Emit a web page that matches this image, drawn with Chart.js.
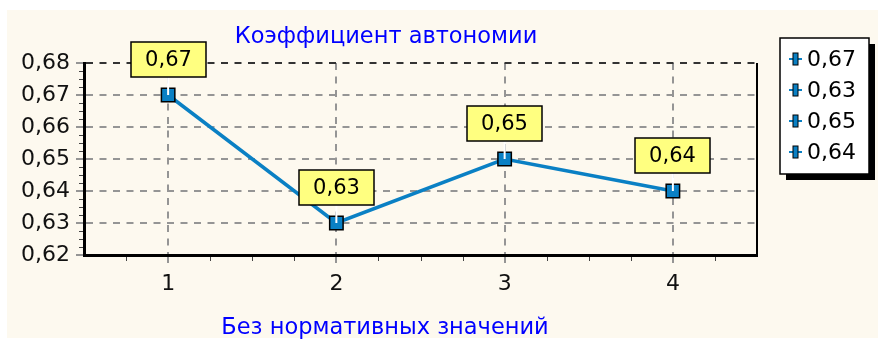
<!DOCTYPE html>
<html lang="ru">
<head>
    <meta charset="UTF-8">
    <title>Коэффициент автономии</title>
    <script src="https://cdn.jsdelivr.net/npm/chart.js"></script>
    <style>
        html, body {
            margin: 0;
            padding: 0;
            background: #ffffff;
        }
        .wrap {
            width: 878px;
            height: 340px;
        }
    </style>
</head>
<body>
<div class="wrap">
    <canvas id="chart1" width="878" height="340"></canvas>
</div>
<script>
    // data
    const categories = [1, 2, 3, 4];
    const values = [0.67, 0.63, 0.65, 0.64];
    const valueLabels = ['0,67', '0,63', '0,65', '0,64'];
    const yTickValues = [0.62, 0.63, 0.64, 0.65, 0.66, 0.67, 0.68];
    const yTickLabels = ['0,62', '0,63', '0,64', '0,65', '0,66', '0,67', '0,68'];
    const chartTitle = 'Коэффициент автономии';
    const xAxisTitle = 'Без нормативных значений';

    const lineColor = '#0a80c4';
    const gridColor = '#959595';

    Chart.defaults.font.family = 'DejaVu Sans';

    // extra TeeChart-like decorations: panel, marks, legend, titles
    const teePlugin = {
        id: 'teePlugin',
        beforeDraw(chart) {
            const ctx = chart.ctx;
            ctx.save();
            ctx.fillStyle = '#ffffff';
            ctx.fillRect(0, 0, chart.width, chart.height);
            ctx.fillStyle = '#fdf9ef';
            ctx.fillRect(7, 10, chart.width - 7, chart.height - 12);
            ctx.restore();
        },
        afterDatasetsDraw(chart) {
            const ctx = chart.ctx;
            const area = chart.chartArea;
            const xs = chart.scales.x;
            const ys = chart.scales.y;
            ctx.save();

            // right wall
            ctx.strokeStyle = '#000';
            ctx.lineWidth = 2;
            ctx.beginPath();
            ctx.moveTo(area.right, area.top);
            ctx.lineTo(area.right, area.bottom + 1);
            ctx.stroke();

            // minor ticks
            ctx.strokeStyle = '#444';
            ctx.lineWidth = 1;
            ctx.beginPath();
            for (let i = 0; i < yTickValues.length - 1; i++) {
                const step = (yTickValues[i + 1] - yTickValues[i]) / 4;
                for (let k = 1; k < 4; k++) {
                    const y = Math.round(ys.getPixelForValue(yTickValues[i] + step * k)) + 0.5;
                    ctx.moveTo(area.left - 5, y);
                    ctx.lineTo(area.left - 1, y);
                }
            }
            for (let v = xs.min + 0.25; v < xs.max; v += 0.25) {
                if (categories.includes(v)) continue;
                const x = Math.round(xs.getPixelForValue(v)) + 0.5;
                ctx.moveTo(x, area.bottom + 2);
                ctx.lineTo(x, area.bottom + 6);
            }
            ctx.stroke();

            // marks (value boxes)
            const meta = chart.getDatasetMeta(0);
            meta.data.forEach((pt, i) => {
                const px = pt.x;
                const py = pt.y;
                const bw = 75, bh = 35, gap = 18;
                ctx.strokeStyle = '#ffffff';
                ctx.lineWidth = 2;
                ctx.beginPath();
                ctx.moveTo(px, py);
                ctx.lineTo(px, py - gap);
                ctx.stroke();

                const bx = Math.round(px - bw / 2);
                const by = Math.round(py - gap - bh);
                ctx.fillStyle = '#ffff80';
                ctx.fillRect(bx, by, bw, bh);
                ctx.strokeStyle = '#000';
                ctx.lineWidth = 1.5;
                ctx.strokeRect(bx, by, bw, bh);
                ctx.fillStyle = '#000';
                ctx.font = '21px "DejaVu Sans"';
                ctx.textAlign = 'center';
                ctx.textBaseline = 'middle';
                ctx.fillText(valueLabels[i], bx + bw / 2, by + bh / 2 + 1);
            });

            // titles
            ctx.fillStyle = '#0000ff';
            ctx.font = '22.5px "DejaVu Sans"';
            ctx.textAlign = 'center';
            ctx.textBaseline = 'middle';
            ctx.fillText(chartTitle, 386, 37);
            ctx.fillText(xAxisTitle, 385, 328);

            // legend
            const lx = 780, ly = 38, lw = 89, lh = 136;
            ctx.fillStyle = '#000';
            ctx.fillRect(lx + 6, ly + 6, lw, lh);
            ctx.fillStyle = '#ffffff';
            ctx.fillRect(lx, ly, lw, lh);
            ctx.strokeStyle = '#000';
            ctx.lineWidth = 1.5;
            ctx.strokeRect(lx, ly, lw, lh);
            valueLabels.forEach((txt, i) => {
                const ry = ly + 21 + i * 31;
                ctx.strokeStyle = lineColor;
                ctx.lineWidth = 2;
                ctx.beginPath();
                ctx.moveTo(lx + 9, ry);
                ctx.lineTo(lx + 22, ry);
                ctx.stroke();
                ctx.fillStyle = lineColor;
                ctx.fillRect(lx + 13, ry - 6, 5, 12);
                ctx.strokeStyle = '#000';
                ctx.lineWidth = 1;
                ctx.strokeRect(lx + 13, ry - 6, 5, 12);
                ctx.fillStyle = '#000';
                ctx.font = '22px "DejaVu Sans"';
                ctx.textAlign = 'left';
                ctx.textBaseline = 'middle';
                ctx.fillText(txt, lx + 27, ry + 1);
            });

            ctx.restore();
        }
    };

    new Chart(document.getElementById('chart1'), {
        type: 'line',
        data: {
            datasets: [{
                label: chartTitle,
                data: categories.map((c, i) => ({ x: c, y: values[i] })),
                borderColor: lineColor,
                backgroundColor: lineColor,
                borderWidth: 3.5,
                pointStyle: 'rect',
                pointRadius: 9.5,
                pointBackgroundColor: lineColor,
                pointBorderColor: '#000',
                pointBorderWidth: 1.5,
                tension: 0
            }]
        },
        options: {
            responsive: false,
            animation: false,
            layout: {
                padding: { left: 7, top: 63, right: 121, bottom: 0 }
            },
            plugins: {
                legend: { display: false },
                title: { display: false },
                tooltip: { enabled: false }
            },
            scales: {
                x: {
                    type: 'linear',
                    min: categories[0] - 0.5,
                    max: categories[categories.length - 1] + 0.5,
                    afterBuildTicks: scale => {
                        scale.ticks = categories.map(v => ({ value: v }));
                    },
                    afterFit: scale => {
                        scale.height = 85;
                    },
                    ticks: {
                        color: '#111',
                        font: { size: 22 },
                        padding: 8,
                        callback: v => String(v)
                    },
                    grid: {
                        color: gridColor,
                        lineWidth: 2,
                        tickLength: 8,
                        tickColor: gridColor
                    },
                    border: { color: '#000', width: 3, dash: [7, 6.5] }
                },
                y: {
                    min: yTickValues[0],
                    max: yTickValues[yTickValues.length - 1],
                    afterBuildTicks: scale => {
                        scale.ticks = yTickValues.map(v => ({ value: v }));
                    },
                    afterFit: scale => {
                        scale.width = 77;
                    },
                    ticks: {
                        color: '#111',
                        font: { size: 22 },
                        padding: 6,
                        callback: (v, i) => yTickLabels[i]
                    },
                    grid: {
                        color: c => c.index === yTickValues.length - 1 ? '#333' : gridColor,
                        lineWidth: 2,
                        tickLength: 8,
                        tickColor: gridColor
                    },
                    border: { color: '#000', width: 3, dash: [7, 6.5] }
                }
            }
        },
        plugins: [teePlugin]
    });
</script>
</body>
</html>
